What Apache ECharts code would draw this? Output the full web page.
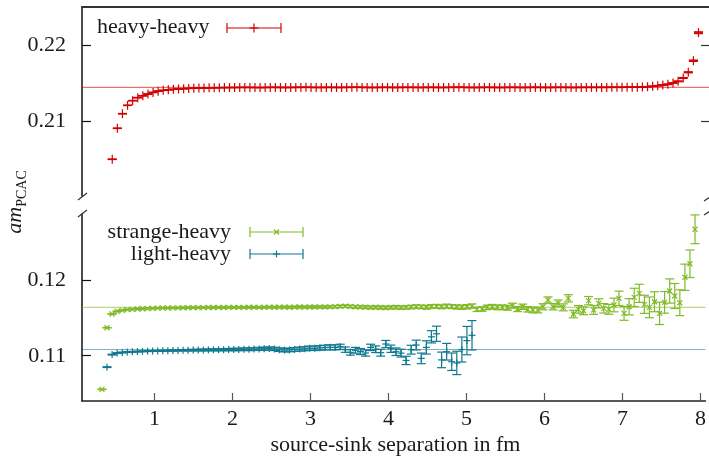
<!DOCTYPE html>
<html>
<head>
<meta charset="utf-8">
<script src="https://cdn.jsdelivr.net/npm/echarts/dist/echarts.min.js"></script>
<style>
  html, body { margin: 0; padding: 0; background: #fff; }
  #chart { width: 709px; height: 456px; }
</style>
</head>
<body>
<div id="chart"></div>
<script>
// Lattice spacing in fm: timeslice t sits at separation t * LATTICE_SPACING.
const LATTICE_SPACING = 0.065;

// heavy-heavy, timeslices 7..122
const heavyFirstT = 7;
const heavyValues = [
  0.20496, 0.20904, 0.21096, 0.21206, 0.21268, 0.21307, 0.21332, 0.21355, 0.21376, 0.21393,
  0.21403, 0.21411, 0.21417, 0.21421, 0.21425, 0.21429, 0.21431, 0.21433, 0.21435, 0.21437,
  0.21438, 0.21439, 0.21440, 0.21440,
  0.21441, 0.21441, 0.21442, 0.21441, 0.21441, 0.21440, 0.21441, 0.21442, 0.21442, 0.21441,
  0.21441, 0.21441, 0.21442, 0.21442, 0.21443, 0.21442, 0.21441, 0.21441, 0.21442, 0.21442,
  0.21441, 0.21441, 0.21442, 0.21443, 0.21443, 0.21442, 0.21441, 0.21441, 0.21441, 0.21442,
  0.21442, 0.21441, 0.21441, 0.21442, 0.21442, 0.21442, 0.21441, 0.21441, 0.21442, 0.21442,
  0.21441, 0.21441, 0.21442, 0.21442, 0.21443, 0.21442, 0.21441, 0.21441, 0.21441, 0.21442,
  0.21442, 0.21441, 0.21441, 0.21441, 0.21442, 0.21442, 0.21441, 0.21441, 0.21442, 0.21442,
  0.21442, 0.21441, 0.21441, 0.21442, 0.21442, 0.21442, 0.21441, 0.21441, 0.21442, 0.21442,
  0.21442, 0.21442, 0.21442, 0.21442, 0.21443, 0.21443, 0.21443, 0.21444, 0.21444,
  0.21445, 0.21447, 0.21451, 0.21457, 0.21464, 0.21474, 0.21483, 0.21500, 0.21522, 0.21566,
  0.21641, 0.21793, 0.22162
];
const heavyErrors = [
  0.00003, 0.00003, 0.00003, 0.00003, 0.00003, 0.00003, 0.00003, 0.00003, 0.00003, 0.00003,
  0.00002, 0.00002, 0.00002, 0.00002, 0.00002, 0.00002, 0.00002, 0.00002, 0.00002, 0.00002,
  0.00002, 0.00002, 0.00002, 0.00002, 0.00002, 0.00002, 0.00002, 0.00002, 0.00002, 0.00002,
  0.00002, 0.00002, 0.00002, 0.00002, 0.00002, 0.00002, 0.00002, 0.00002, 0.00002, 0.00002,
  0.00002, 0.00002, 0.00002, 0.00002, 0.00002, 0.00002, 0.00002, 0.00002, 0.00002, 0.00002,
  0.00002, 0.00002, 0.00002, 0.00002, 0.00002, 0.00002, 0.00002, 0.00002, 0.00002, 0.00002,
  0.00002, 0.00002, 0.00002, 0.00002, 0.00002, 0.00002, 0.00002, 0.00002, 0.00002, 0.00002,
  0.00002, 0.00002, 0.00002, 0.00002, 0.00002, 0.00002, 0.00002, 0.00002, 0.00002, 0.00002,
  0.00002, 0.00002, 0.00002, 0.00002, 0.00002, 0.00002, 0.00002, 0.00002, 0.00002, 0.00002,
  0.00002, 0.00002, 0.00002, 0.00002, 0.00002, 0.00002, 0.00002, 0.00002, 0.00002, 0.00002,
  0.00002, 0.00002, 0.00002,
  0.00002, 0.00002, 0.00002, 0.00003, 0.00003, 0.00003, 0.00004, 0.00004, 0.00005, 0.00006,
  0.00007, 0.00009, 0.00012
];

// strange-heavy, timeslices 5..122
const strangeFirstT = 5;
const strangeValues = [
  0.10556, 0.11370, 0.11551, 0.11587, 0.11600, 0.11608, 0.11613, 0.11617, 0.11620, 0.11623,
  0.11626, 0.11628, 0.11630, 0.11631, 0.11632, 0.11633, 0.11634, 0.11634, 0.11635, 0.11636,
  0.11636, 0.11637, 0.11637, 0.11638, 0.11637, 0.11638, 0.11639, 0.11638, 0.11639, 0.11640,
  0.11640, 0.11639, 0.11640, 0.11641, 0.11640, 0.11641, 0.11642, 0.11640, 0.11641, 0.11643,
  0.11642, 0.11644, 0.11643, 0.11645, 0.11644, 0.11646, 0.11648, 0.11652, 0.11655, 0.11650,
  0.11646, 0.11644, 0.11641, 0.11638, 0.11640, 0.11637, 0.11634, 0.11638, 0.11641, 0.11636,
  0.11639, 0.11643, 0.11648, 0.11645, 0.11640, 0.11650, 0.11652, 0.11646, 0.11655, 0.11649,
  0.11644, 0.11639, 0.11647, 0.11656, 0.11613, 0.11617, 0.11639, 0.11647, 0.11639, 0.11639,
  0.11634, 0.11661, 0.11617, 0.11647, 0.11613, 0.11604, 0.11604, 0.11647, 0.11736, 0.11647,
  0.11692, 0.11639, 0.11758, 0.11551, 0.11613, 0.11594, 0.11727, 0.11604, 0.11692, 0.11626,
  0.11613, 0.11670, 0.11758, 0.11560, 0.11647, 0.11771, 0.11824, 0.11679, 0.11639, 0.11713,
  0.11560, 0.11705, 0.11855, 0.11789, 0.11700, 0.12036, 0.12215, 0.12670
];
const strangeErrors = [
  0.00004, 0.00004, 0.00004, 0.00004, 0.00004, 0.00004, 0.00004, 0.00004, 0.00004, 0.00004,
  0.00004, 0.00004, 0.00005, 0.00005, 0.00005, 0.00005, 0.00005, 0.00006, 0.00006, 0.00006,
  0.00006, 0.00006, 0.00007, 0.00007, 0.00007, 0.00007, 0.00008, 0.00008, 0.00008, 0.00008,
  0.00009, 0.00009, 0.00009, 0.00010, 0.00010, 0.00010, 0.00011, 0.00011, 0.00011, 0.00012,
  0.00012, 0.00012, 0.00013, 0.00013, 0.00014, 0.00014, 0.00015, 0.00015, 0.00016, 0.00016,
  0.00017, 0.00017, 0.00018, 0.00018, 0.00019, 0.00019, 0.00020, 0.00020, 0.00021, 0.00021,
  0.00022, 0.00022, 0.00023, 0.00023, 0.00024, 0.00024, 0.00025, 0.00025, 0.00026, 0.00026,
  0.00027, 0.00027, 0.00028, 0.00028, 0.00029, 0.00029, 0.00030, 0.00030, 0.00031, 0.00031,
  0.00032, 0.00033, 0.00034, 0.00035, 0.00036, 0.00037, 0.00038, 0.00040, 0.00041, 0.00042,
  0.00044, 0.00046, 0.00048, 0.00050, 0.00050, 0.00052, 0.00055, 0.00058, 0.00060, 0.00062,
  0.00065, 0.00090, 0.00095, 0.00092, 0.00108, 0.00120, 0.00120, 0.00120, 0.00137, 0.00132,
  0.00148, 0.00143, 0.00160, 0.00165, 0.00170, 0.00174, 0.00182, 0.00190
];

// light-heavy, timeslices 6..78
const lightFirstT = 6;
const lightValues = [
  0.10849, 0.11015, 0.11035, 0.11043, 0.11048, 0.11052, 0.11055, 0.11058, 0.11060, 0.11062,
  0.11064, 0.11066, 0.11067, 0.11069, 0.11070, 0.11072, 0.11073, 0.11074, 0.11075, 0.11076,
  0.11077, 0.11078, 0.11079, 0.11080, 0.11081, 0.11082, 0.11083, 0.11085, 0.11086, 0.11088,
  0.11090, 0.11093, 0.11095, 0.11090, 0.11080, 0.11074, 0.11076, 0.11083, 0.11088, 0.11092,
  0.11100, 0.11098, 0.11104, 0.11108, 0.11112, 0.11110, 0.11118, 0.11080, 0.11045, 0.11072,
  0.11055, 0.11036, 0.11110, 0.11086, 0.11040, 0.11155, 0.11092, 0.11053, 0.11034, 0.10938,
  0.11080, 0.11141, 0.10965, 0.11110, 0.11250, 0.11290, 0.10945, 0.11053, 0.10921, 0.10905,
  0.11082, 0.11200, 0.11270
];
const lightErrors = [
  0.00005, 0.00005, 0.00005, 0.00005, 0.00005, 0.00005, 0.00005, 0.00005, 0.00005, 0.00005,
  0.00006, 0.00007, 0.00007, 0.00008, 0.00008, 0.00009, 0.00010, 0.00010, 0.00011, 0.00012,
  0.00012, 0.00013, 0.00014, 0.00014, 0.00015, 0.00016, 0.00016, 0.00017, 0.00018, 0.00019,
  0.00020, 0.00020, 0.00021, 0.00022, 0.00023, 0.00024, 0.00024, 0.00025, 0.00026, 0.00027,
  0.00028, 0.00029, 0.00030, 0.00031, 0.00032, 0.00033, 0.00034, 0.00035, 0.00037, 0.00038,
  0.00040, 0.00041, 0.00042, 0.00044, 0.00045, 0.00047, 0.00048, 0.00050, 0.00052, 0.00055,
  0.00058, 0.00065, 0.00070, 0.00088, 0.00081, 0.00100, 0.00103, 0.00110, 0.00115, 0.00154,
  0.00165, 0.00187, 0.00194
];

// Plateau fit results
const heavyFit = 0.21443;
const strangeFit = 0.11638;
const lightFit = 0.11082;

// Axis ranges and tick labels
const xRange = [0.0692, 8.064];
const xTicks = [1, 2, 3, 4, 5, 6, 7, 8];
const topRange = [0.20013, 0.225];
const topTicks = [0.21, 0.22];
const bottomRange = [0.10402, 0.12872];
const bottomTicks = [0.11, 0.12];

const RED = '#d40000';
const GREEN = '#80ba28';
const TEAL = '#10788f';
const SERIF = '"Liberation Serif", "DejaVu Serif", serif';
const INK = '#1a1a1a';

function toPoints(firstT, values, errors) {
  return values.map((v, i) => [(firstT + i) * LATTICE_SPACING, v, errors[i]]);
}

function markerSegments(kind, cx, cy, h) {
  if (kind === 'plus') {
    return [
      { x1: cx - h, y1: cy, x2: cx + h, y2: cy },
      { x1: cx, y1: cy - h, x2: cx, y2: cy + h }
    ];
  }
  return [
    { x1: cx - h, y1: cy - h, x2: cx + h, y2: cy + h },
    { x1: cx - h, y1: cy + h, x2: cx + h, y2: cy - h }
  ];
}

function errorBarRenderer(color, kind, half) {
  return function (params, api) {
    const x = api.value(0), y = api.value(1), e = api.value(2);
    const c = api.coord([x, y]);
    const hi = api.coord([x, y + e]);
    const lo = api.coord([x, y - e]);
    const cap = 4.5;
    const style = { stroke: color, lineWidth: 1.2, fill: null };
    const children = [
      { type: 'line', shape: { x1: c[0], y1: hi[1], x2: c[0], y2: lo[1] }, style: style },
      { type: 'line', shape: { x1: c[0] - cap, y1: hi[1], x2: c[0] + cap, y2: hi[1] }, style: style },
      { type: 'line', shape: { x1: c[0] - cap, y1: lo[1], x2: c[0] + cap, y2: lo[1] }, style: style }
    ];
    markerSegments(kind, c[0], c[1], half).forEach(function (s) {
      children.push({ type: 'line', shape: s, style: style });
    });
    return { type: 'group', children: children };
  };
}

function fitLine(value, color, xIdx, yIdx) {
  return {
    type: 'line',
    xAxisIndex: xIdx,
    yAxisIndex: yIdx,
    data: [[xRange[0], value], [xRange[1], value]],
    showSymbol: false,
    silent: true,
    lineStyle: { color: color, width: 1.2, opacity: 0.55 },
    z: 1
  };
}

// Legend sample: horizontal error bar with a marker in the middle
function legendSample(x1, x2, y, color, kind, half) {
  const style = { stroke: color, lineWidth: 1.2 };
  const mid = (x1 + x2) / 2;
  const els = [
    { type: 'line', shape: { x1: x1, y1: y, x2: x2, y2: y }, style: style },
    { type: 'line', shape: { x1: x1, y1: y - 5, x2: x1, y2: y + 5 }, style: style },
    { type: 'line', shape: { x1: x2, y1: y - 5, x2: x2, y2: y + 5 }, style: style }
  ];
  markerSegments(kind, mid, y, half).forEach(function (s) {
    els.push({ type: 'line', shape: s, style: style });
  });
  return els;
}

function breakMark(x1, y1, x2, y2) {
  return { type: 'line', shape: { x1: x1, y1: y1, x2: x2, y2: y2 }, style: { stroke: '#333', lineWidth: 1.2 }, z: 10 };
}

const labelStyle = { fontFamily: SERIF, fontSize: 22, color: INK };

const chart = echarts.init(document.getElementById('chart'), null, { renderer: 'canvas' });

chart.setOption({
  animation: false,
  backgroundColor: '#fff',
  textStyle: { fontFamily: SERIF },
  grid: [
    { left: 82, top: 7, width: 627, height: 189 },
    { left: 82, top: 214, width: 627, height: 187 }
  ],
  xAxis: [
    {
      type: 'value', gridIndex: 0, position: 'top', min: xRange[0], max: xRange[1],
      axisLine: { show: true, lineStyle: { color: '#333', width: 2 } },
      axisTick: { show: false }, axisLabel: { show: false }, splitLine: { show: false }
    },
    {
      type: 'value', gridIndex: 1, position: 'bottom', min: xRange[0], max: xRange[1],
      axisLine: { show: true, onZero: false, lineStyle: { color: '#222', width: 1.5 } },
      axisTick: { show: true, inside: true, length: 8, customValues: xTicks, lineStyle: { color: '#555', width: 1.2 } },
      axisLabel: Object.assign({ customValues: xTicks, margin: 7 }, labelStyle),
      splitLine: { show: false }
    }
  ],
  yAxis: [
    {
      type: 'value', gridIndex: 0, position: 'left', min: topRange[0], max: topRange[1],
      axisLine: { show: true, onZero: false, lineStyle: { color: '#111', width: 1.5 } },
      axisTick: { show: true, inside: true, length: 9, customValues: topTicks, lineStyle: { color: '#111', width: 1.2 } },
      axisLabel: Object.assign({ customValues: topTicks, margin: 16, formatter: v => v.toFixed(2) }, labelStyle),
      splitLine: { show: false }
    },
    {
      type: 'value', gridIndex: 0, position: 'right', min: topRange[0], max: topRange[1],
      axisLine: { show: false },
      axisTick: { show: true, inside: true, length: 8, customValues: topTicks, lineStyle: { color: '#333', width: 1.2 } },
      axisLabel: { show: false },
      splitLine: { show: false }
    },
    {
      type: 'value', gridIndex: 1, position: 'left', min: bottomRange[0], max: bottomRange[1],
      axisLine: { show: true, onZero: false, lineStyle: { color: '#111', width: 1.5 } },
      axisTick: { show: true, inside: true, length: 9, customValues: bottomTicks, lineStyle: { color: '#111', width: 1.2 } },
      axisLabel: Object.assign({ customValues: bottomTicks, margin: 16, formatter: v => v.toFixed(2) }, labelStyle),
      splitLine: { show: false }
    }
  ],
  series: [
    fitLine(heavyFit, RED, 0, 0),
    fitLine(strangeFit, GREEN, 1, 2),
    fitLine(lightFit, TEAL, 1, 2),
    {
      name: 'heavy-heavy', type: 'custom', xAxisIndex: 0, yAxisIndex: 0, clip: true, z: 3,
      renderItem: errorBarRenderer(RED, 'plus', 4.5),
      encode: { x: 0, y: 1 },
      data: toPoints(heavyFirstT, heavyValues, heavyErrors)
    },
    {
      name: 'strange-heavy', type: 'custom', xAxisIndex: 1, yAxisIndex: 2, clip: true, z: 3,
      renderItem: errorBarRenderer(GREEN, 'cross', 2.5),
      encode: { x: 0, y: 1 },
      data: toPoints(strangeFirstT, strangeValues, strangeErrors)
    },
    {
      name: 'light-heavy', type: 'custom', xAxisIndex: 1, yAxisIndex: 2, clip: true, z: 4,
      renderItem: errorBarRenderer(TEAL, 'plus', 3.5),
      encode: { x: 0, y: 1 },
      data: toPoints(lightFirstT, lightValues, lightErrors)
    }
  ],
  graphic: [].concat(
    [
      { type: 'text', x: 97, y: 27, style: { text: 'heavy-heavy', font: '22px ' + SERIF, fill: INK, align: 'left', verticalAlign: 'middle' } },
      { type: 'text', x: 231, y: 232, style: { text: 'strange-heavy', font: '22px ' + SERIF, fill: INK, align: 'right', verticalAlign: 'middle' } },
      { type: 'text', x: 231, y: 254, style: { text: 'light-heavy', font: '22px ' + SERIF, fill: INK, align: 'right', verticalAlign: 'middle' } },
      {
        type: 'text', x: 395.5, y: 445,
        style: { text: 'source-sink separation in fm', font: '22px ' + SERIF, fill: INK, align: 'center', verticalAlign: 'middle' }
      },
      {
        type: 'text', x: 17, y: 202, rotation: Math.PI / 2,
        style: {
          text: '{a|am}{s|PCAC}',
          align: 'center', verticalAlign: 'middle', fill: INK,
          rich: {
            a: { fontFamily: SERIF, fontStyle: 'italic', fontSize: 22, lineHeight: 25, verticalAlign: 'top', fill: INK },
            s: { fontFamily: SERIF, fontSize: 14, lineHeight: 14, padding: [11, 0, 0, 0], verticalAlign: 'top', fill: INK }
          }
        }
      },
      breakMark(78, 200, 87, 193),
      breakMark(78, 217, 87, 210),
      breakMark(704, 201, 710, 197),
      breakMark(704, 215, 710, 211)
    ],
    legendSample(227, 281, 28, RED, 'plus', 4.5),
    legendSample(250, 303, 232, GREEN, 'cross', 2.5),
    legendSample(250, 303, 254, TEAL, 'plus', 3.5)
  )
});
</script>
</body>
</html>
